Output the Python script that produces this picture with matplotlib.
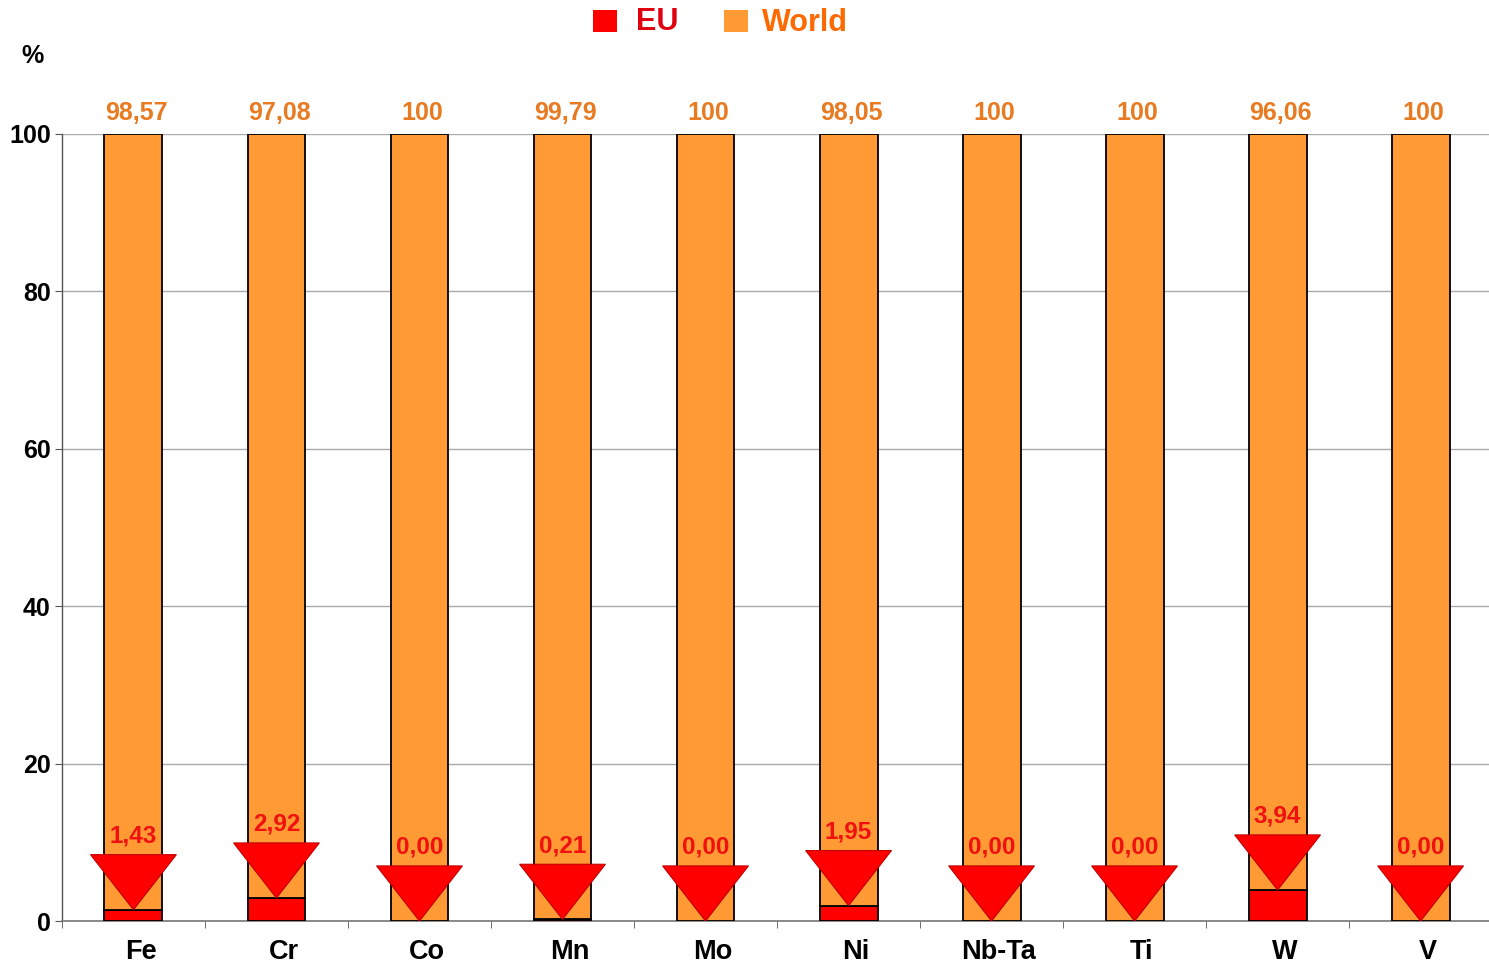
import matplotlib
matplotlib.use("Agg")
import matplotlib.pyplot as plt
from matplotlib.patches import Polygon, Rectangle
import numpy as np

categories = ["Fe", "Cr", "Co", "Mn", "Mo", "Ni", "Nb-Ta", "Ti", "W", "V"]
eu = [1.43, 2.92, 0.00, 0.21, 0.00, 1.95, 0.00, 0.00, 3.94, 0.00]
world = [98.57, 97.08, 100, 99.79, 100, 98.05, 100, 100, 96.06, 100]
world_labels = ["98,57", "97,08", "100", "99,79", "100", "98,05", "100", "100", "96,06", "100"]
eu_labels = ["1,43", "2,92", "0,00", "0,21", "0,00", "1,95", "0,00", "0,00", "3,94", "0,00"]

plt.rcParams['font.family'] = ['Liberation Sans', 'DejaVu Sans']
plt.rcParams['font.weight'] = 'bold'

RED = "#FF0000"
ORANGE = "#FF9A35"
LBL_ORANGE = "#E87A22"
LBL_RED = "#F01010"

fig = plt.figure(figsize=(14.89, 9.64), dpi=100)
ax = fig.add_axes([0.0416, 0.0446, 0.9605, 0.8164])

x = np.arange(len(categories))
w = 0.405
ax.bar(x, eu, width=w, color=RED, edgecolor="black", linewidth=1.3, zorder=3)
ax.bar(x, world, width=w, bottom=eu, color=ORANGE, edgecolor="black", linewidth=1.3, zorder=3)

tri_w = 0.30
tri_h = 7.0
for xi, e, el, wl in zip(x, eu, eu_labels, world_labels):
    poly = Polygon([[xi - tri_w, e + tri_h], [xi + tri_w, e + tri_h], [xi, e]],
                   closed=True, facecolor=RED, edgecolor="#C00000", linewidth=0.8, zorder=5)
    ax.add_patch(poly)
    ax.text(xi, e + tri_h + 0.9, el, ha="center", va="bottom", color=LBL_RED,
            fontsize=17.5, fontweight="bold", zorder=6)
    ax.text(xi + 0.02, 101.2, wl, ha="center", va="bottom", color=LBL_ORANGE,
            fontsize=18, fontweight="bold", clip_on=False)

ax.set_xlim(-0.5, len(categories) - 0.5)
ax.set_ylim(0, 100)
ax.set_yticks([0, 20, 40, 60, 80, 100])
ax.set_yticklabels(["0", "20", "40", "60", "80", "100"], fontsize=18, fontweight="bold")
ax.set_xticks(x + 0.05)
ax.set_xticklabels(categories, fontsize=19.5, fontweight="bold")
ax.tick_params(axis="x", length=0, pad=13)
ax.set_xticks(np.arange(-0.5, len(categories)), minor=True)
ax.tick_params(axis="x", which="minor", length=5, direction="out", color="#555555")
ax.tick_params(axis="y", length=5, direction="out", color="#555555", pad=3)
ax.grid(axis="y", color="#AAAAAA", linewidth=1.0, zorder=0)
ax.set_axisbelow(True)
for s in ["top", "right"]:
    ax.spines[s].set_visible(False)
ax.spines["left"].set_color("#555555")
ax.spines["bottom"].set_color("#777777")
ax.spines["left"].set_linewidth(1.0)
ax.spines["bottom"].set_linewidth(1.2)

fig.text(0.0215, 0.942, "%", fontsize=18, fontweight="bold", ha="center", va="center")

# legend
fig.patches.append(Rectangle((593 / 1489, 1 - 32 / 964), 24 / 1489, 22 / 964,
                             transform=fig.transFigure, facecolor=RED, edgecolor="none"))
fig.text(636 / 1489, 1 - 22 / 964, "EU", color="#E00010", fontsize=22, fontweight="bold",
         ha="left", va="center")
fig.patches.append(Rectangle((724 / 1489, 1 - 32 / 964), 24 / 1489, 22 / 964,
                             transform=fig.transFigure, facecolor=ORANGE, edgecolor="none"))
fig.text(762 / 1489, 1 - 23 / 964, "World", color="#FF6A00", fontsize=22, fontweight="bold",
         ha="left", va="center")

fig.savefig("out.png", dpi=100)
